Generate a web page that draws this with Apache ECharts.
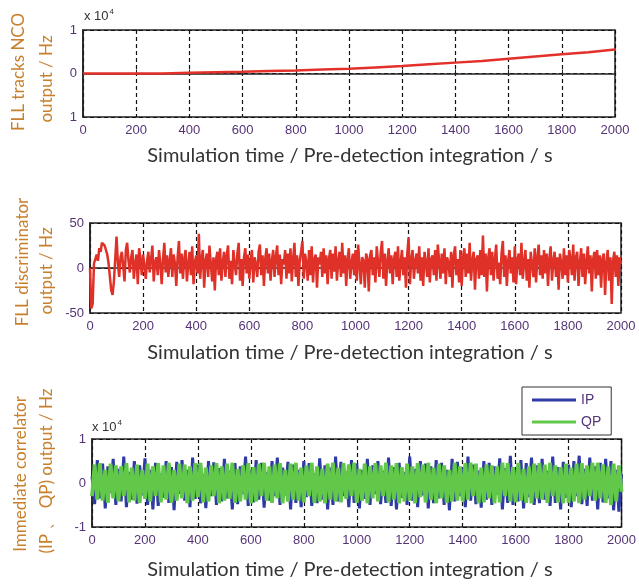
<!DOCTYPE html>
<html>
<head>
<meta charset="utf-8">
<script src="https://cdn.jsdelivr.net/npm/echarts@6/dist/echarts.min.js"></script>
<style>
  html, body { margin: 0; padding: 0; background: #fff; }
  #chart { width: 639px; height: 585px; }
</style>
</head>
<body>
<div id="chart"></div>
<script>
// plot 1 - FLL NCO output (x 10^4 Hz)
const ncoTime = [0, 100, 200, 300, 300, 400, 500, 600, 700, 800, 900, 1000, 1100, 1200, 1300, 1400, 1500, 1600, 1700, 1800, 1900, 2000];
const ncoValue = [0, 0, 0, 0, 0.01, 0.02, 0.03, 0.04, 0.055, 0.07, 0.09, 0.11, 0.14, 0.17, 0.21, 0.25, 0.29, 0.34, 0.39, 0.44, 0.49, 0.55];
const ncoYLabels = { '-1': '1', '0': '0', '1': '1' };

// plot 2 - FLL discriminator output (Hz), one sample every 5 s
const discStep = 5;
const discValue = [
  0, -45, -40, 5, 10, 15, 8, 22, 18, 28,
  30, 25, 20, 15, 5, -10, -25, -30, -15, 10,
  35, 5, -10, 12, 18, 2, -15, 20, 28, 8,
  -5, 12, 20, -12, 5, 15, -18, 22, 10, -8,
  15, 2, -12, 8, 18, -5, 10, 25, -15, 6,
  12, -8, 20, 5, -18, 10, 28, -5, 14, -10,
  8, 22, -10, 15, 5, -20, 12, 30, -6, 16,
  -12, 10, 20, -15, 4, 18, -8, 24, -18, 6,
  14, -6, 38, -12, 10, 20, -22, 8, 16, -10,
  25, 5, -15, 12, -25, 10, 18, -8, 22, -14,
  6, 18, -10, 14, 25, -12, 8, -18, 20, 4,
  -8, 16, 28, -14, 10, -20, 12, 22, -6, 15,
  -12, 8, 20, -16, 12, 4, -10, 18, 26, -8,
  14, -20, 10, 22, -6, 16, -14, 8, 20, -10,
  12, 25, -8, 15, -18, 10, 4, 20, -12, 16,
  -6, 22, -15, 10, 28, -10, 14, -20, 8, 18,
  30, -12, 16, 6, -14, 20, -8, 24, -16, 10,
  15, -22, 12, 4, 18, -10, 22, -6, 14, -18,
  10, 20, -12, 16, -4, 24, -14, 8, 18, -10,
  28, -6, 14, -20, 10, 22, -12, 6, 16, -8,
  20, -14, 26, 4, -18, 12, 8, -22, 16, 10,
  -26, 14, 20, -8, 12, -16, 24, 6, -10, 18,
  30, -12, 16, -20, 8, 22, -6, 14, -18, 10,
  18, -10, 24, -14, 6, 20, -8, 12, -22, 16,
  34, -18, 10, 20, -12, 8, 16, -6, 24, -14,
  12, -20, 18, 6, -10, 22, -16, 10, 14, -8,
  20, -14, 26, 8, -12, 16, -6, 22, -18, 12,
  6, -10, 18, -22, 14, 24, -8, 10, -16, 20,
  -20, 12, 22, -10, 16, -6, 28, -14, 8, 18,
  -24, 10, 14, -12, 20, -8, 36, -10, 16, -26,
  12, 22, -8, 18, -14, 10, 26, -12, 6, -18,
  16, 30, -10, 14, -20, 8, 20, -6, 12, -16,
  24, -18, 10, 16, -8, 28, -12, 6, 20, -14,
  10, -22, 18, 4, -10, 22, -16, 12, 26, -8,
  14, -12, 20, -6, 16, -20, 10, 24, -14, 8,
  18, -10, 12, -24, 16, 6, -12, 22, -8, 14,
  -16, 20, 10, -8, 26, -14, 12, 18, -20, 6,
  22, -10, 16, -18, 8, 24, -6, 14, -26, 10,
  18, -12, 20, -8, 14, -22, 10, 16, -30, 6,
  20, -14, 12, -40, 8, 18, -10, 14, -20, 12,
  5
];

// plot 3 - immediate correlator outputs (x 10^4), one sample every 10 s
const corrStep = 10;
const ipValue = [
  0.15, -0.48, 0.52, -0.35, 0.44, -0.58, 0.38, -0.22, 0.55, -0.5,
  0.32, -0.42, 0.6, -0.55, 0.25, -0.38, 0.5, -0.47, 0.4, -0.28,
  0.56, -0.5, 0.3, -0.6, 0.46, -0.52, 0.22, -0.33, 0.5, -0.45,
  0.36, -0.62, 0.48, -0.25, 0.52, -0.4, 0.3, -0.55, 0.58, -0.36,
  0.42, -0.46, 0.2, -0.57, 0.5, -0.3, 0.47, -0.5, 0.34, -0.42,
  0.55, -0.35, 0.28, -0.6, 0.45, -0.48, 0.38, -0.25, 0.6, -0.52,
  0.3, -0.44, 0.52, -0.38, 0.46, -0.56, 0.25, -0.4, 0.5, -0.3,
  0.58, -0.5, 0.35, -0.28, 0.48, -0.6, 0.42, -0.45, 0.3, -0.55,
  0.5, -0.32, 0.45, -0.52, 0.22, -0.46, 0.56, -0.38, 0.4, -0.6,
  0.35, -0.5, 0.6, -0.42, 0.48, -0.3, 0.26, -0.55, 0.52, -0.45,
  0.44, -0.58, 0.3, -0.36, 0.55, -0.5, 0.4, -0.25, 0.5, -0.48,
  0.28, -0.45, 0.58, -0.52, 0.36, -0.6, 0.46, -0.34, 0.25, -0.5,
  0.6, -0.4, 0.32, -0.55, 0.5, -0.28, 0.44, -0.58, 0.38, -0.46,
  0.52, -0.35, 0.46, -0.5, 0.3, -0.62, 0.55, -0.42, 0.48, -0.3,
  0.35, -0.55, 0.6, -0.4, 0.42, -0.48, 0.28, -0.56, 0.5, -0.38,
  0.46, -0.5, 0.38, -0.26, 0.56, -0.6, 0.34, -0.45, 0.62, -0.5,
  0.3, -0.42, 0.52, -0.58, 0.45, -0.32, 0.58, -0.5, 0.4, -0.46,
  0.55, -0.38, 0.28, -0.52, 0.6, -0.45, 0.36, -0.6, 0.48, -0.34,
  0.42, -0.55, 0.5, -0.3, 0.62, -0.48, 0.32, -0.52, 0.58, -0.4,
  0.38, -0.6, 0.46, -0.44, 0.55, -0.35, 0.5, -0.62, 0.3, -0.65,
  0.2
];
const qpValue = [
  -0.3, 0.42, -0.38, 0.45, -0.4, 0.3, -0.45, 0.44, -0.35, 0.4,
  -0.42, 0.38, -0.3, 0.45, -0.44, 0.35, -0.4, 0.42, -0.45, 0.3,
  -0.36, 0.44, -0.42, 0.38, -0.3, 0.45, -0.44, 0.4, -0.38, 0.46,
  -0.45, 0.3, -0.4, 0.44, -0.35, 0.42, -0.46, 0.38, -0.4, 0.45,
  -0.32, 0.46, -0.44, 0.35, -0.42, 0.4, -0.3, 0.45, -0.46, 0.38,
  -0.4, 0.44, -0.36, 0.46, -0.45, 0.32, -0.42, 0.4, -0.38, 0.45,
  -0.46, 0.36, -0.42, 0.44, -0.3, 0.46, -0.4, 0.38, -0.45, 0.42,
  -0.35, 0.45, -0.46, 0.3, -0.42, 0.44, -0.38, 0.46, -0.4, 0.35,
  -0.44, 0.4, -0.3, 0.46, -0.45, 0.38, -0.42, 0.32, -0.46, 0.44,
  -0.38, 0.46, -0.42, 0.35, -0.44, 0.45, -0.36, 0.42, -0.3, 0.46,
  -0.45, 0.32, -0.4, 0.44, -0.46, 0.38, -0.35, 0.45, -0.42, 0.4,
  -0.3, 0.46, -0.44, 0.4, -0.38, 0.45, -0.46, 0.36, -0.42, 0.44,
  -0.4, 0.38, -0.46, 0.45, -0.32, 0.42, -0.44, 0.46, -0.38, 0.35,
  -0.46, 0.44, -0.35, 0.4, -0.45, 0.3, -0.42, 0.46, -0.4, 0.38,
  -0.42, 0.45, -0.38, 0.46, -0.3, 0.44, -0.46, 0.35, -0.44, 0.42,
  -0.35, 0.4, -0.46, 0.38, -0.44, 0.46, -0.3, 0.45, -0.42, 0.36,
  -0.44, 0.46, -0.4, 0.32, -0.45, 0.38, -0.46, 0.44, -0.35, 0.45,
  -0.38, 0.42, -0.45, 0.46, -0.3, 0.4, -0.44, 0.36, -0.46, 0.44,
  -0.45, 0.35, -0.42, 0.44, -0.46, 0.45, -0.38, 0.4, -0.3, 0.46,
  -0.4, 0.46, -0.35, 0.42, -0.45, 0.38, -0.5, 0.44, -0.42, 0.4,
  -0.2
];

const tickColor = '#553377';
const titleColor = '#c8802e';
const axisFont = 'Liberation Sans, Arial, sans-serif';
const titleFont = 'Lato, Open Sans, sans-serif';

function toPairs(values, step) {
    return values.map((v, i) => [i * step, v]);
}

function xAxisFor(gridIndex) {
    return {
        type: 'value', gridIndex: gridIndex, min: 0, max: 2000, interval: 200,
        axisLine: { lineStyle: { color: '#222', width: 1.5 } },
        axisTick: { inside: true, length: 4, lineStyle: { color: '#222' } },
        axisLabel: { color: tickColor, fontFamily: axisFont, fontSize: 13, margin: 7, formatter: (v) => String(v) },
        splitLine: { show: true, lineStyle: { color: '#111', type: [4, 3], width: 1.2 } }
    };
}

function yAxisFor(gridIndex, min, max, interval, formatter) {
    return {
        type: 'value', gridIndex: gridIndex, min: min, max: max, interval: interval,
        axisLine: { show: true, lineStyle: { color: '#222', width: 1.5 } },
        axisTick: { inside: true, length: 4, lineStyle: { color: '#222' } },
        axisLabel: { color: tickColor, fontFamily: axisFont, fontSize: 13, margin: 6, formatter: formatter || ((v) => String(v)) },
        splitLine: { show: true, lineStyle: { color: '#111', type: [4, 3], width: 1.2 } }
    };
}

function yTitle(x, y, text) {
    return {
        type: 'text', x: x, y: y, rotation: Math.PI / 2,
        style: { text: text, fill: titleColor, font: '17px ' + titleFont, textAlign: 'center', textVerticalAlign: 'middle' }
    };
}

function xTitle(y) {
    return {
        type: 'text', x: 350, y: y,
        style: { text: 'Simulation time / Pre-detection integration / s', fill: '#333', font: '20px ' + titleFont, textAlign: 'center', textVerticalAlign: 'middle' }
    };
}

function scaleNote(x, y) {
    return {
        type: 'text', x: x, y: y,
        style: {
            text: '{a|x 10}{b|4}', fill: '#333',
            rich: { a: { fontSize: 13, fontFamily: axisFont, fill: '#333' }, b: { fontSize: 8, fontFamily: axisFont, fill: '#333', verticalAlign: 'top', padding: [0, 0, 8, 1] } }
        }
    };
}

const chart = echarts.init(document.getElementById('chart'));

chart.setOption({
    animation: false,
    backgroundColor: '#fff',
    grid: [
        { left: 83, right: 24, top: 30, height: 87, show: true, borderColor: '#222', borderWidth: 1.5 },
        { left: 90, right: 18, top: 223, height: 90, show: true, borderColor: '#222', borderWidth: 1.5 },
        { left: 92, right: 17, top: 439, height: 88, show: true, borderColor: '#222', borderWidth: 1.5 }
    ],
    xAxis: [xAxisFor(0), xAxisFor(1), xAxisFor(2)],
    yAxis: [
        yAxisFor(0, -1, 1, 1, (v) => ncoYLabels[String(v)]),
        yAxisFor(1, -50, 50, 50),
        yAxisFor(2, -1, 1, 1)
    ],
    legend: {
        data: ['IP', 'QP'],
        orient: 'vertical', left: 522, top: 387,
        width: 86,
        backgroundColor: '#fff',
        borderColor: '#333', borderWidth: 1,
        padding: [6, 10, 6, 10],
        itemGap: 8,
        itemWidth: 44, itemHeight: 3,
        icon: 'rect',
        textStyle: { color: tickColor, fontFamily: axisFont, fontSize: 14 }
    },
    series: [
        {
            name: 'NCO', type: 'line', xAxisIndex: 0, yAxisIndex: 0,
            data: ncoTime.map((t, i) => [t, ncoValue[i]]),
            showSymbol: false, lineStyle: { color: '#e3302a', width: 2.5 }, itemStyle: { color: '#e3302a' }
        },
        {
            name: 'FLL', type: 'line', xAxisIndex: 1, yAxisIndex: 1,
            data: toPairs(discValue, discStep),
            showSymbol: false, lineStyle: { color: '#df3128', width: 2.5 }, itemStyle: { color: '#df3128' }
        },
        {
            name: 'IP', type: 'line', xAxisIndex: 2, yAxisIndex: 2,
            data: toPairs(ipValue, corrStep),
            showSymbol: false, lineStyle: { color: '#2e3aa6', width: 3 }, itemStyle: { color: '#2e3aa6' }
        },
        {
            name: 'QP', type: 'line', xAxisIndex: 2, yAxisIndex: 2,
            data: toPairs(qpValue, corrStep),
            showSymbol: false, lineStyle: { color: '#62c84a', width: 3.8 }, itemStyle: { color: '#62c84a' }
        }
    ],
    graphic: [
        scaleNote(84, 8),
        scaleNote(92, 419),
        yTitle(19, 72, 'FLL tracks NCO'),
        yTitle(47, 79, 'output / Hz'),
        yTitle(23, 262, 'FLL discriminator'),
        yTitle(47, 271, 'output / Hz'),
        yTitle(21, 474, 'Immediate correlator'),
        yTitle(47, 471, '(IP 、 QP) output / Hz'),
        xTitle(156),
        xTitle(353),
        xTitle(570)
    ]
});
</script>
</body>
</html>
